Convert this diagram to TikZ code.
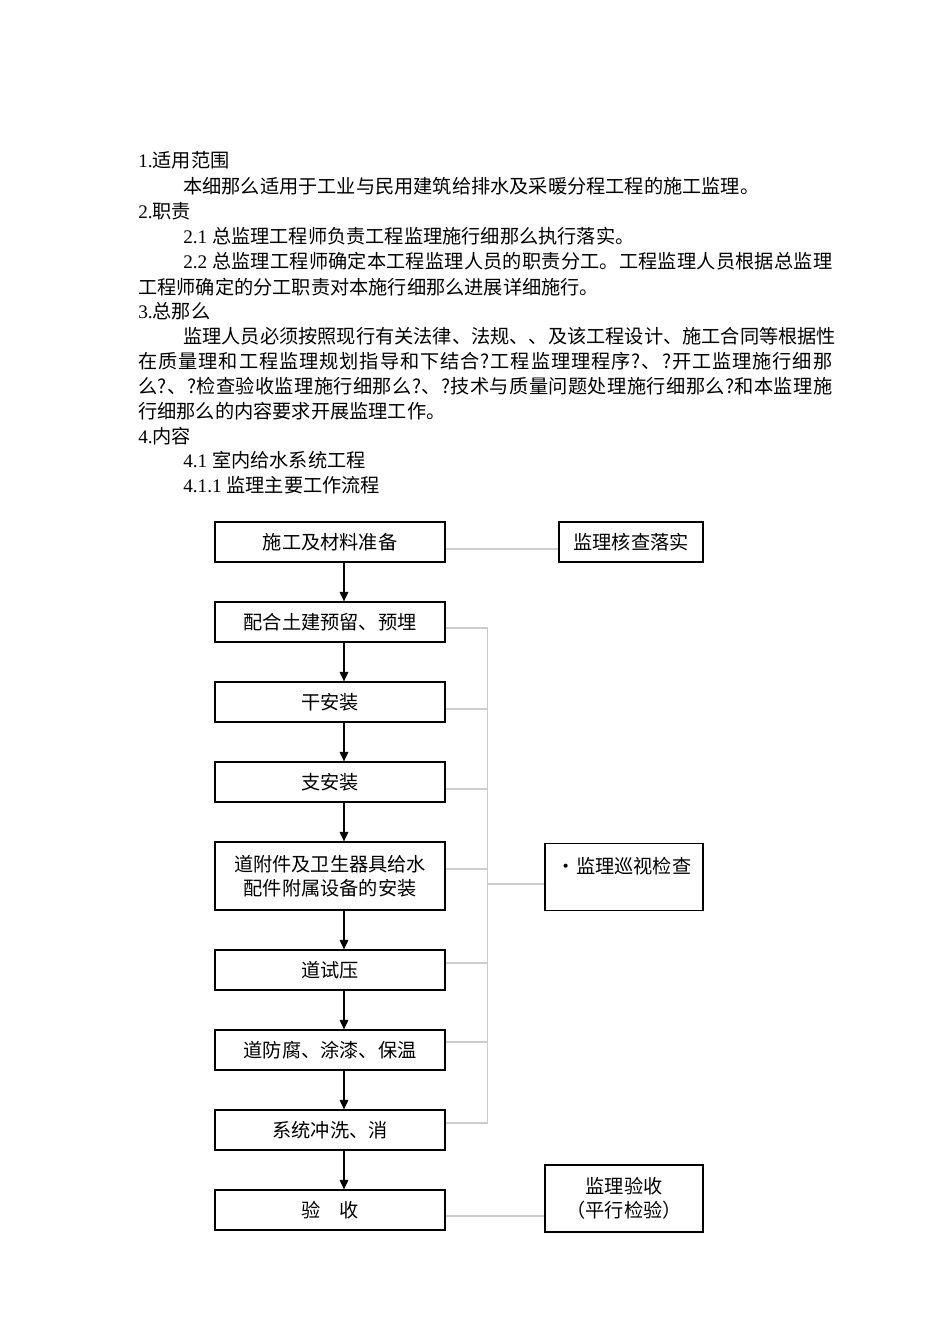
\documentclass[tikz,border=0pt]{standalone}
\usepackage{fontspec}
\setmainfont{Liberation Serif}
\newfontfamily\cjk{Noto Sans CJK SC}
\newcommand{\zh}[1]{{\cjk #1}}
% spread the characters of a line over the given box width
\newcommand{\spread}[1]{\spreadfirst#1\relax}
\def\spreadfirst#1{#1\spreadrest}
\def\spreadrest#1{\ifx#1\relax\else\hskip0pt plus 1fil #1\expandafter\spreadrest\fi}
\usetikzlibrary{positioning, arrows.meta, calc}

\begin{document}
\begin{tikzpicture}[
    x=0.625pt, y=-0.625pt,
    node distance=24.2pt,
    txt/.style={anchor=west, inner sep=0pt,
                font=\fontsize{12pt}{15pt}\selectfont},
    box/.style={draw, line width=0.8pt, minimum height=25pt, inner sep=2pt,
                align=center, font=\cjk\fontsize{12pt}{15pt}\selectfont},
    stepbox/.style={box, minimum width=143.75pt},
    tallbox/.style={stepbox, minimum height=42.5pt},
    checkbox/.style={box, minimum width=98.75pt, minimum height=42pt},
    arrow/.style={-{Triangle[length=6pt, width=5.5pt]}, line width=0.8pt},
    link/.style={draw=gray!40, line width=0.7pt},
]
\useasboundingbox (0,0) rectangle (950,1344);

% ── Text above the chart ─────────────────────────────────────────────────
\node[txt] (t1)  at (138,160) {1.\zh{适用范围}};
\node[txt] (t2)  at (183,186) {\zh{本细那么适用于工业与民用建筑给排水及采暖分程工程的施工监理。}};
\node[txt] (t3)  at (138,211) {2.\zh{职责}};
\node[txt] (t4)  at (183,236) {2.1 \zh{总监理工程师负责工程监理施行细那么执行落实。}};
\node[txt] (t5)  at (183,261) {\hbox to 405.6pt{2.2\hspace{0.25em}\zh{\spread{总监理工程师确定本工程监理人员的职责分工。工程监理人员根据总监理}}}};
\node[txt] (t6)  at (138,287) {\zh{工程师确定的分工职责对本施行细那么进展详细施行。}};
\node[txt] (t7)  at (138,311) {3.\zh{总那么}};
\node[txt] (t8)  at (183,336) {\hbox to 405.6pt{\zh{\spread{监理人员必须按照现行有关法律、法规、、及该工程设计、施工合同等根据性}}}};
\node[txt] (t9)  at (138,361) {\hbox to 433.75pt{\zh{\spread{在质量理和工程监理规划指导和下结合?工程监理理程序?、?开工监理施行细那}}}};
\node[txt] (t10) at (138,386) {\hbox to 433.75pt{\zh{\spread{么?、?检查验收监理施行细那么?、?技术与质量问题处理施行细那么?和本监理施}}}};
\node[txt] (t11) at (138,411) {\zh{行细那么的内容要求开展监理工作。}};
\node[txt] (t12) at (138,436) {4.\zh{内容}};
\node[txt] (t13) at (183,460) {4.1 \zh{室内给水系统工程}};
\node[txt] (t14) at (183,485) {4.1.1 \zh{监理主要工作流程}};

% ── Main work steps ──────────────────────────────────────────────────────
\node[stepbox] (b1) at (330,542) {施工及材料准备};
\node[stepbox, below=of b1] (b2) {配合土建预留、预埋};
\node[stepbox, below=of b2] (b3) {干安装};
\node[stepbox, below=of b3] (b4) {支安装};
\node[tallbox, below=of b4] (b5) {道附件及卫生器具给水\\配件附属设备的安装};
\node[stepbox, below=of b5] (b6) {道试压};
\node[stepbox, below=of b6] (b7) {道防腐、涂漆、保温};
\node[stepbox, below=of b7] (b8) {系统冲洗、消};
\node[stepbox, below=of b8] (b9) {验　收};

\foreach \a/\b in {b1/b2, b2/b3, b3/b4, b4/b5, b5/b6, b6/b7, b7/b8, b8/b9}
    \draw[arrow] ($(\a.south)+(14,0)$) -- ($(\b.north)+(14,0)$);

% ── Supervision boxes ────────────────────────────────────────────────────
\node[box, minimum width=90pt] (r1) at (631,542) {监理核查落实};
\node[checkbox] (r2) at (624,877) {·监理巡视检查\\\mbox{}};
\node[checkbox] (r3) at (624,1198.5) {监理验收\\（平行检验）};

% ── Grey links ───────────────────────────────────────────────────────────
\draw[link] ($(b1.east)+(0,7)$) -- ($(r1.west)+(0,7)$);
\foreach \n/\dy in {b2/6, b3/7, b4/7, b5/-7, b6/-7, b7/-8, b8/-7}
    \draw[link] ($(\n.east)+(0,\dy)$) -- +(42,0) coordinate (s\n);
\draw[link] (sb2) -- (sb8);
\coordinate (rv) at ($(r2.west)+(0,7)$);
\draw[link] (rv) -- (rv -| sb2);
\draw[link] ($(b9.east)+(0,6)$) coordinate (v) -- (v -| r3.west);

\end{tikzpicture}
\end{document}
